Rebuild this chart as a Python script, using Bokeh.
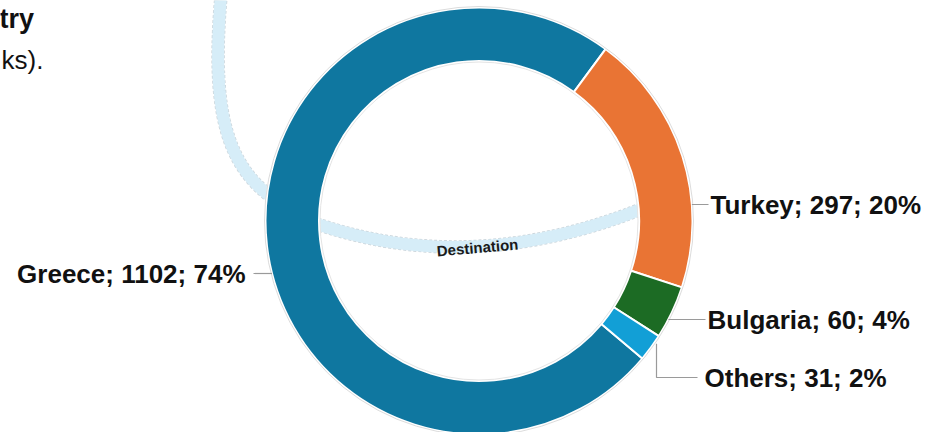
import numpy as np
from bokeh.plotting import figure
from bokeh.models import Range1d, ColumnDataSource
from bokeh.core.properties import value
from bokeh.embed import file_html
from bokeh.resources import INLINE

# ---------------- data ----------------
countries = ["Greece", "Turkey", "Bulgaria", "Others"]
arrivals = [1102, 297, 60, 31]
slice_colors = ["#0f77a0", "#e97434", "#1c6b24", "#129fd6"]
title_tail = ["try", "ks)."]
band_label = "Destination"

# ---------------- layout ----------------
W, H = 925, 432


def sy(Y):
    """screen Y (reference pixels, from top) -> data y"""
    return H - Y


p = figure(width=W, height=H, output_backend="svg", toolbar_location=None,
           x_range=Range1d(0, W), y_range=Range1d(0, H), min_border=0)
p.axis.visible = False
p.grid.visible = False
p.outline_line_color = None
p.background_fill_color = "white"
p.border_fill_color = "white"

FONT = value("Liberation Sans")

# donut geometry
CX, CY_S = 478.5, 220.5
CY = sy(CY_S)
R_OUT, R_IN = 213.5, 160.0
START_CW = 130.1  # degrees clockwise from 12 o'clock where first slice starts

# ---------------- connector band ("Destination") ----------------
def cubic(P0, P1, P2, P3, n=60):
    t = np.linspace(0, 1, n)[:, None]
    P0, P1, P2, P3 = map(np.array, (P0, P1, P2, P3))
    return ((1 - t) ** 3) * P0 + 3 * ((1 - t) ** 2) * t * P1 + 3 * (1 - t) * t ** 2 * P2 + t ** 3 * P3


def quad(P0, C, P2, n=60):
    t = np.linspace(0, 1, n)[:, None]
    P0, C, P2 = map(np.array, (P0, C, P2))
    return ((1 - t) ** 2) * P0 + 2 * (1 - t) * t * C + t ** 2 * P2


# control points relative to donut centre (screen px)
segA = cubic((CX - 257.5, -10), (CX - 270.5, 130), (CX - 246.5, 178), (CX - 183.5, 212))
segB = quad((CX - 160.5, 224), (CX - 8.5, 275), (CX + 158.5, 210))
segC = quad((CX + 158.5, 210), (CX + 170, 206), (CX + 180, 202), n=10)
band = np.vstack([segA, segB, segC])
bx = band[:, 0]
by = H - band[:, 1]

p.line(bx, by, line_color="#ccd6dc", line_width=13.5, line_dash="3 2")
p.line(bx, by, line_color="#d6edf8", line_width=12)

# ---------------- donut ----------------
total = float(sum(arrivals))
fracs = np.array(arrivals) / total
cw_end = START_CW + np.cumsum(fracs) * 360.0
cw_start = cw_end - fracs * 360.0
pcts = [int(round(f * 100)) for f in fracs]

src = ColumnDataSource(dict(
    country=countries,
    start=np.radians(90.0 - cw_start),
    end=np.radians(90.0 - cw_end),
    color=slice_colors,
))
p.annular_wedge(x=CX, y=CY, inner_radius=R_IN, outer_radius=R_OUT,
                start_angle="start", end_angle="end", direction="clock",
                fill_color="color", line_color="white", line_width=2, source=src)
p.circle(x=[CX], y=[CY], radius=R_OUT + 1, fill_color=None, line_color="#dcdcdc", line_width=1)
p.circle(x=[CX], y=[CY], radius=R_IN - 1, fill_color=None, line_color="#e4e4e4", line_width=1)

p.text(x=[CX - 1.5], y=[sy(247)], text=[band_label], angle=5, angle_units="deg",
       text_font=FONT, text_font_style="bold", text_font_size=value("15px"),
       text_align="center", text_baseline="middle", text_color="#1a1a1a")

# ---------------- labels with leader lines ----------------
label_layout = {  # anchor x, leader-line screen Y, side
    "Greece": (245, 273, "right"),
    "Turkey": (710, 204, "left"),
    "Bulgaria": (707, 319, "left"),
    "Others": (704, 377, "left"),
}
elbow_x = {"Others": 656}

lx, ly, ltxt, lalign = [], [], [], []
xs, ys = [], []
for c, v, pc in zip(countries, arrivals, pcts):
    ax, LY, side = label_layout[c]
    lx.append(ax)
    ly.append(sy(LY))
    ltxt.append(f"{c}; {v}; {pc}%")
    lalign.append(side)
    if c in elbow_x:
        ex = elbow_x[c]
        ring_y = CY_S + np.sqrt(R_OUT ** 2 - (ex - CX) ** 2)
        xs.append([ex, ex, ax - 7])
        ys.append([sy(ring_y + 4), sy(LY), sy(LY)])
    else:
        dx = np.sqrt(R_OUT ** 2 - (LY - CY_S) ** 2)
        if side == "left":
            xs.append([CX + dx, ax - 2])
        else:
            xs.append([ax + 8, CX - dx])
        ys.append([sy(LY), sy(LY)])

p.multi_line(xs, ys, line_color="#9a9a9a", line_width=1.2)
p.text(x=lx, y=ly, text=ltxt, text_align=lalign, text_baseline="middle",
       text_font=FONT, text_font_style="bold", text_font_size=value("26px"),
       text_color="#111111")

# ---------------- title (cropped) ----------------
p.text(x=[33.5], y=[sy(18)], text=[title_tail[0]], text_align="right",
       text_baseline="middle", text_font=FONT, text_font_style="bold",
       text_font_size=value("27px"), text_color="#111111")
p.text(x=[43], y=[sy(59.5)], text=[title_tail[1]], text_align="right",
       text_baseline="middle", text_font=FONT, text_font_style="normal",
       text_font_size=value("26px"), text_color="#111111")

open("out.html", "w").write(file_html(p, INLINE))
